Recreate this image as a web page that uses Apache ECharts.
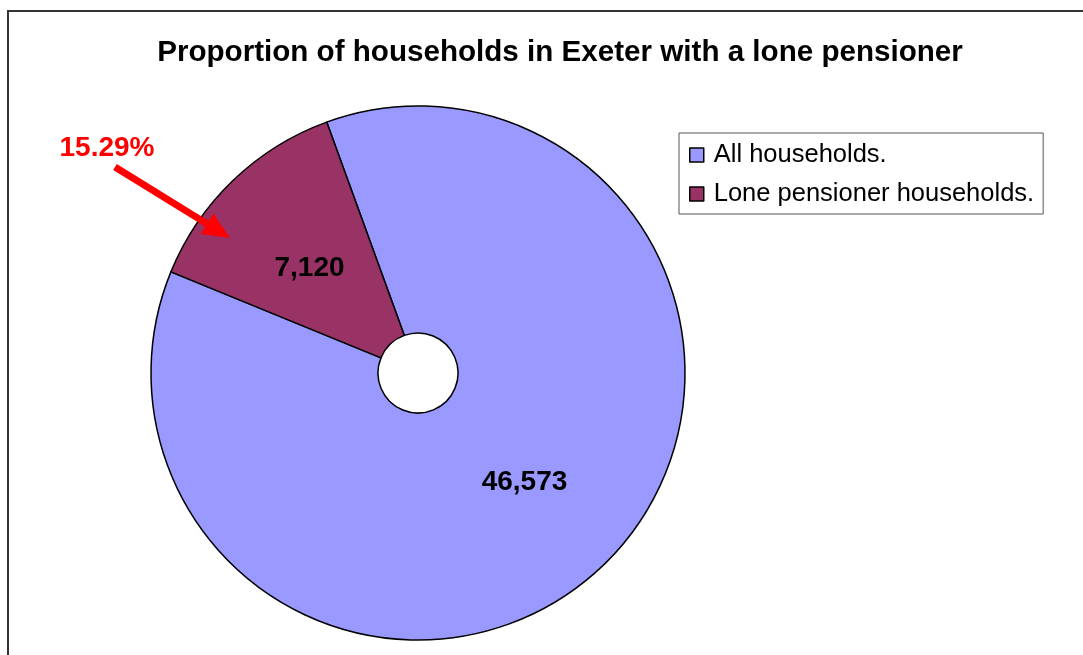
<!DOCTYPE html>
<html>
<head>
<meta charset="utf-8">
<title>Proportion of households in Exeter with a lone pensioner</title>
<script src="https://cdn.jsdelivr.net/npm/echarts@6/dist/echarts.min.js"></script>
<style>
  html, body { margin: 0; padding: 0; background: #fff; }
  #chart { width: 1083px; height: 655px; }
</style>
</head>
<body>
<div id="chart"></div>
<script>
// Household counts for Exeter
const categories = ['All households.', 'Lone pensioner households.'];
const households = [46573, 7120];
const sliceColors = ['#9999FF', '#993366'];

const FONT = "'Liberation Sans', Arial, sans-serif";

// Nudges for the in-slice value labels
const labelOffsets = [[-2, -4], [0, 8]];

function withCommas(n) {
  return String(n).replace(/\B(?=(\d{3})+(?!\d))/g, ',');
}

// Lone pensioner households expressed against all households
const loneShare = (households[1] / households[0] * 100).toFixed(2) + '%';

// Red call-out arrow pointing into the lone pensioner slice
const tail = [115, 167], tip = [230, 238];
const dx = tip[0] - tail[0], dy = tip[1] - tail[1];
const len = Math.sqrt(dx * dx + dy * dy);
const ux = dx / len, uy = dy / len;
const headLen = 27, headHalf = 12;
const base = [tip[0] - ux * headLen, tip[1] - uy * headLen];
const headPts = [
  tip,
  [base[0] - uy * headHalf, base[1] + ux * headHalf],
  [base[0] + uy * headHalf, base[1] - ux * headHalf]
];

const chart = echarts.init(document.getElementById('chart'), null, { renderer: 'canvas' });

chart.setOption({
  animation: false,
  backgroundColor: '#ffffff',
  title: {
    text: 'Proportion of households in Exeter with a lone pensioner',
    left: 555,
    textAlign: 'center',
    top: 33,
    textStyle: { fontFamily: FONT, fontSize: 29.6, fontWeight: 'bold', color: '#000' }
  },
  legend: {
    orient: 'vertical',
    left: 679,
    top: 133,
    padding: [9, 9, 7, 10],
    itemGap: 13,
    itemWidth: 14,
    itemHeight: 14,
    icon: 'rect',
    borderColor: '#555',
    borderWidth: 1,
    backgroundColor: '#fff',
    selectedMode: false,
    itemStyle: { borderColor: '#000', borderWidth: 1.5 },
    textStyle: { fontFamily: FONT, fontSize: 25.5, color: '#000', lineHeight: 25, padding: [0, 0, 0, 5] },
    data: categories
  },
  graphic: [
    {
      type: 'rect',
      shape: { x: 8, y: 11, width: 1400, height: 900 },
      style: { fill: 'none', stroke: '#333', lineWidth: 2 },
      silent: true,
      z: 0
    },
    {
      type: 'line',
      shape: { x1: tail[0], y1: tail[1], x2: base[0] + ux * 2, y2: base[1] + uy * 2 },
      style: { stroke: '#FF0000', lineWidth: 7 },
      silent: true,
      z: 10
    },
    {
      type: 'polygon',
      shape: { points: headPts },
      style: { fill: '#FF0000' },
      silent: true,
      z: 10
    },
    {
      type: 'text',
      x: 107,
      y: 148,
      style: {
        text: loneShare,
        fill: '#FF0000',
        font: 'bold 28px ' + FONT,
        align: 'center',
        verticalAlign: 'middle'
      },
      silent: true,
      z: 10
    }
  ],
  series: [
    {
      type: 'pie',
      center: [418, 373],
      radius: [40, 267],
      startAngle: 110,
      clockwise: true,
      avoidLabelOverlap: false,
      emphasis: { disabled: true },
      itemStyle: { borderColor: '#000', borderWidth: 1.5 },
      label: {
        show: true,
        position: 'inside',
        fontFamily: FONT,
        fontSize: 28,
        fontWeight: 'bold',
        color: '#000',
        formatter: p => withCommas(p.value)
      },
      labelLine: { show: false },
      data: categories.map((name, i) => ({
        name: name,
        value: households[i],
        itemStyle: { color: sliceColors[i] },
        label: { offset: labelOffsets[i] }
      }))
    }
  ]
});
</script>
</body>
</html>
